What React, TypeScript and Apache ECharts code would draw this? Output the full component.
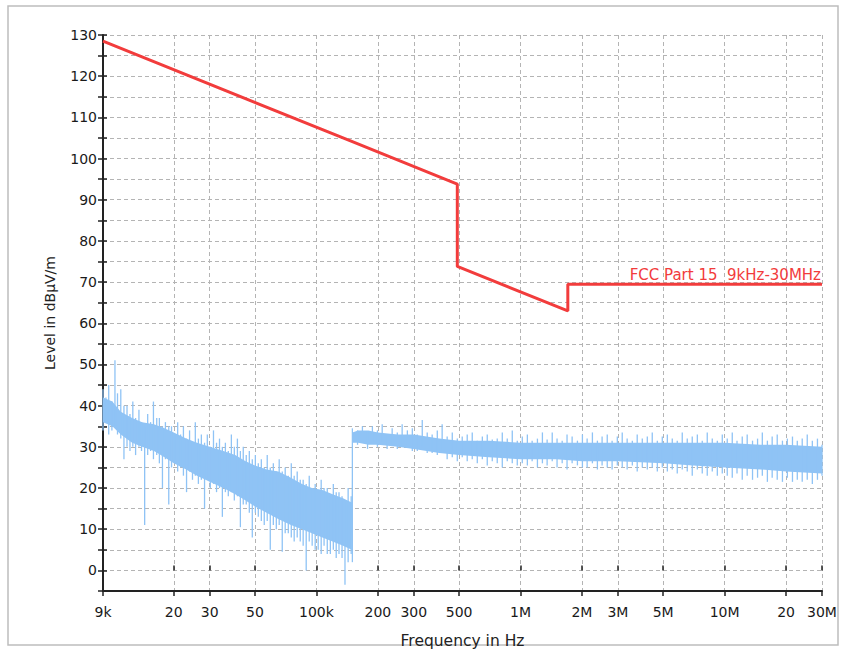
import React, { useEffect, useRef } from "react";
import * as echarts from "echarts";

// X-axis ticks (Hz) and their labels
const tickFreqHz = [9e3, 2e4, 3e4, 5e4, 1e5, 2e5, 3e5, 5e5, 1e6, 2e6, 3e6, 5e6, 1e7, 2e7, 3e7];
const tickLabels = ["9k", "20", "30", "50", "100k", "200", "300", "500", "1M", "2M", "3M", "5M", "10M", "20", "30M"];

// FCC Part 15 limit line (kHz, dBµV/m)
const limitKHz = [9, 150, 490, 490, 1705, 1705, 30000];
const limitLevel = [128.5, 104.1, 93.8, 73.8, 63.0, 69.5, 69.5];

// Dense core of the measured noise (kHz, lower / upper level)
const bandKHz = [9, 10, 11, 12.5, 14, 16, 18, 20, 23, 26, 30, 35, 40, 45, 50, 57, 65, 75, 85, 95, 107, 120, 135, 149,
  150, 160, 180, 200, 250, 300, 400, 500, 700, 1000, 1500, 2000, 3000, 5000, 7000, 10000, 15000, 20000, 30000];
const bandLo = [36, 35, 33, 31, 30, 29, 27.5, 26, 24.5, 23, 21.5, 20, 18.5, 17, 15.5, 14, 12.5, 11, 10, 9, 8, 7, 6, 5,
  31, 31, 30.5, 30.5, 30, 29.5, 28.5, 28, 27.5, 27, 27, 26.5, 26.5, 26, 25.5, 25, 24.5, 24, 23.5];
const bandHi = [42, 41, 38.5, 37, 36, 35.5, 34.5, 33.5, 32, 31, 30, 29, 28, 26.5, 25.5, 24.5, 24, 22.5, 21, 20, 19.5, 18.5, 17.5, 16.5,
  33.5, 34, 34, 33.5, 33, 33, 32, 31.5, 31.5, 31, 31, 31, 31, 31, 31, 31, 30.5, 30.5, 30];

// Measured trace, as vertical excursions per frequency step (kHz, min / max dBµV/m)
const strokeKHz = [9, 9.3, 9.6, 9.95, 10.3, 10.6, 11.0, 11.4, 11.8, 12.2, 12.6, 13.0, 13.5, 13.9, 14.4, 14.9, 15.4, 15.9,
  16.5, 17.0, 17.6, 18.2, 18.9, 19.5, 20.2, 20.9, 21.6, 22.3, 23.1, 23.9, 24.7, 25.5, 26.4, 27.3, 28.3, 29.2, 30.2,
  31.3, 32.4, 33.5, 34.6, 35.8, 37.0, 38.3, 39.6, 41.0, 42.4, 43.8, 45.3, 46.9, 48.5, 50.2, 51.9, 53.7, 55.5, 57.4,
  59.4, 61.5, 63.6, 65.7, 68.0, 70.3, 72.8, 75.3, 77.8, 80.5, 83.3, 86.1, 89.1, 92.2, 95.3, 98.6, 102, 105.5, 109,
  113, 117, 121, 125, 129, 133.5, 138, 143, 148,
  150, 159, 168, 178, 188, 199, 210, 222, 235, 249, 263, 279, 295, 312, 330, 349, 369, 391, 413, 437, 463, 490, 518,
  548, 580, 614, 650, 687, 727, 769, 814, 861, 911, 964, 1020, 1080, 1140, 1210, 1280, 1350, 1430, 1510, 1600, 1690,
  1790, 1900, 2010, 2120, 2250, 2380, 2510, 2660, 2810, 2980, 3150, 3330, 3530, 3730, 3950, 4180, 4420, 4680, 4950,
  5240, 5540, 5860, 6200, 6560, 6940, 7350, 7770, 8220, 8700, 9210, 9740, 10300, 10900, 11500, 12200, 12900, 13700,
  14500, 15300, 16200, 17100, 18100, 19200, 20300, 21500, 22700, 24000, 25400, 26900, 28500, 30000];
const strokeHi = [44, 42, 45, 41, 51, 43, 44, 40, 40, 38, 41, 37, 39, 36, 35, 38, 36, 41,
  37, 37, 35, 36, 35, 35, 33, 36, 33, 35, 32, 34, 31, 36, 32, 33, 31, 33, 30,
  34, 31, 32, 30, 31, 29, 33, 30, 32, 29, 30, 28, 29, 27, 28, 26, 27, 25, 28,
  25, 26, 24, 27, 24, 25, 23, 26, 23, 24, 22, 22, 21, 23, 20, 21, 19, 22, 20,
  20, 18, 21, 19, 19, 18, 17, 20, 18,
  34.5,
  34, 35, 33.5, 35, 34, 35.5, 33, 34.5, 33.5, 35.5, 34, 34.5, 33, 36.5, 33.5,
  33, 34, 35.5, 32.5, 33.5, 32, 32.5,
  33, 33.5, 31.5, 32.5, 33, 31.8, 32, 33.5, 32, 34, 31.5, 32.5,
  33, 31.5, 32, 33.5, 31.8, 33.5, 32, 31.5, 33, 32.5, 31.5, 33,
  32, 33.5, 31.5, 32.5, 33, 31.5, 32.5, 33.5, 32, 31.5, 33, 32, 32.5, 33.5, 31.5, 32.5,
  33, 32, 31.5, 33.5, 32, 32.5, 33, 31.5, 33.5, 32, 31.5, 33,
  32, 33.5, 31.5, 32.5, 33, 31.5, 32, 33.5, 31.5, 32.5, 33, 31.5, 32, 32.5, 31.5, 32, 33, 31.5, 32, 30.5];
const strokeLo = [34, 36, 33, 34, 35, 33, 32, 27, 30, 29, 30, 28, 30, 29, 11, 28, 29, 27,
  28, 26, 20, 27, 16, 25, 27, 24, 25, 23, 19, 24, 22, 23, 21, 22, 15, 22, 20,
  21, 19, 20, 13, 19, 18, 19, 17, 18, 10.5, 16, 16, 14, 8, 14, 13, 12, 11, 12,
  5, 11, 10, 11, 4.5, 9, 9, 8, 7, 8, 7, 6, 0, 7, 6, 5, 5, 4, 6,
  4, 4, 5, 3, 4, 3, -3.5, 2, 4,
  2,
  30.5, 31, 29.5, 31, 30, 31, 29.5, 30.5, 29.5, 30, 30.5, 29, 29, 30, 28.5,
  28.5, 28, 28.5, 27, 27.5, 26.5, 27.5,
  26.5, 27, 26, 27, 25.5, 26.5, 26, 25, 26.5, 26, 25.5, 26,
  25.5, 26.5, 25, 26, 25.5, 26.5, 25, 26, 24.5, 26, 25.5, 25,
  25, 26, 24.5, 25.5, 25, 24.5, 25.5, 25, 24.5, 25.5, 24, 25, 24.5, 25, 24, 25,
  24, 24.5, 23.5, 24.5, 24, 23, 24.5, 23.5, 23, 24, 23, 23.5,
  23, 22.5, 23.5, 22, 23, 22, 22.5, 23, 21.5, 22.5, 22, 21.5, 22.5, 21.5, 22, 21.5, 22, 21, 22, 23];

const lg = (hz: number) => Math.log10(hz);
const NOISE = "#8fc3f5";
const LIMIT = "#f23c3c";
const FONT = "DejaVu Sans";

export default function App() {
  const ref = useRef<HTMLDivElement>(null);
  useEffect(() => {
    if (!ref.current) return;
    const chart = echarts.init(ref.current, null, { renderer: "svg" });
    const xMin = lg(tickFreqHz[0]);
    const xMax = lg(tickFreqHz[tickFreqHz.length - 1]);
    const xTicks = tickFreqHz.map(lg);
    const fmtX = (v: number) => {
      for (let i = 0; i < xTicks.length; i++) if (Math.abs(xTicks[i] - v) < 1e-6) return tickLabels[i];
      return "";
    };
    const gridLine = { show: true, lineStyle: { color: "#b4b4b4", type: [4, 3], width: 1 } };
    chart.setOption({
      animation: false,
      backgroundColor: "#ffffff",
      textStyle: { fontFamily: FONT },
      grid: { left: 103, right: 24, top: 35, bottom: 60, containLabel: false },
      graphic: [
        {
          type: "rect",
          shape: { x: 8, y: 6, width: 830, height: 639 },
          style: { fill: "none", stroke: "#bdbdbd", lineWidth: 1.5 },
          silent: true,
          z: -10,
        },
        {
          type: "text",
          x: 821,
          y: 267,
          style: {
            text: "FCC Part 15  9kHz-30MHz",
            fill: LIMIT,
            font: `15px "${FONT}"`,
            textAlign: "right",
            textVerticalAlign: "top",
          },
          z: 100,
        },
      ],
      xAxis: [
        {
          type: "value",
          min: xMin,
          max: xMax,
          name: "Frequency in Hz",
          nameLocation: "middle",
          nameGap: 42,
          nameTextStyle: { fontSize: 15.5, color: "#222", fontFamily: FONT },
          axisLine: { show: true, onZero: false, lineStyle: { color: "#222", width: 2 } },
          axisTick: { show: true, length: 5, customValues: xTicks, lineStyle: { color: "#222", width: 1.5 } },
          axisLabel: {
            customValues: xTicks,
            formatter: fmtX,
            margin: 14,
            fontSize: 14,
            color: "#1a1a1a",
            fontFamily: FONT,
            showMinLabel: true,
            showMaxLabel: true,
          },
          splitLine: gridLine,
        },
        {
          type: "value",
          min: xMin,
          max: xMax,
          position: "bottom",
          axisLine: { show: false },
          axisTick: { show: true, inside: true, length: 5, customValues: xTicks, lineStyle: { color: "#222", width: 1.5 } },
          axisLabel: { show: false },
          splitLine: { show: false },
        },
      ],
      yAxis: [
        {
          type: "value",
          min: -5,
          max: 130,
          interval: 5,
          name: "Level in dBµV/m",
          nameLocation: "middle",
          nameGap: 46,
          nameTextStyle: { fontSize: 14, color: "#222", fontFamily: FONT },
          axisLine: { show: true, onZero: false, lineStyle: { color: "#222", width: 2 } },
          axisTick: { show: true, length: 5, lineStyle: { color: "#222", width: 1.5 } },
          axisLabel: {
            formatter: (v: number) => (v % 10 === 0 ? String(v) : ""),
            margin: 6,
            fontSize: 14,
            color: "#1a1a1a",
            fontFamily: FONT,
          },
          splitLine: gridLine,
        },
        {
          type: "value",
          min: -5,
          max: 130,
          interval: 5,
          position: "left",
          axisLine: { show: false },
          axisTick: { show: true, inside: true, length: 4, lineStyle: { color: "#222", width: 1.5 } },
          axisLabel: { show: false },
          splitLine: { show: false },
        },
      ],
      series: [
        {
          type: "custom",
          name: "band",
          xAxisIndex: 0,
          yAxisIndex: 0,
          silent: true,
          data: bandKHz.map((f, i) => [lg(f * 1000), bandLo[i], bandHi[i]]),
          encode: { x: 0, y: [1, 2] },
          renderItem: (params: any, api: any) => {
            if (params.dataIndex !== 0) return null;
            const upper = bandKHz.map((f, i) => api.coord([lg(f * 1000), bandHi[i]]));
            const lower = bandKHz.map((f, i) => api.coord([lg(f * 1000), bandLo[i]])).reverse();
            return { type: "polygon", shape: { points: upper.concat(lower) }, style: { fill: NOISE } };
          },
          z: 2,
        },
        {
          type: "custom",
          name: "trace",
          xAxisIndex: 0,
          yAxisIndex: 0,
          silent: true,
          data: strokeKHz.map((f, i) => [lg(f * 1000), strokeLo[i], strokeHi[i]]),
          encode: { x: 0, y: [1, 2] },
          renderItem: (params: any, api: any) => {
            const p0 = api.coord([api.value(0), api.value(1)]);
            const p1 = api.coord([api.value(0), api.value(2)]);
            return {
              type: "line",
              shape: { x1: p0[0], y1: p0[1], x2: p1[0], y2: p1[1] },
              style: { stroke: NOISE, lineWidth: 1.3 },
            };
          },
          z: 3,
        },
        {
          type: "line",
          name: "FCC Part 15",
          xAxisIndex: 0,
          yAxisIndex: 0,
          data: limitKHz.map((f, i) => [lg(f * 1000), limitLevel[i]]),
          showSymbol: false,
          symbol: "none",
          lineStyle: { color: LIMIT, width: 3 },
          z: 5,
        },
      ],
    });
    return () => chart.dispose();
  }, []);
  return <div ref={ref} style={{ position: "fixed", left: 0, top: 0, width: 846, height: 654 }} />;
}
